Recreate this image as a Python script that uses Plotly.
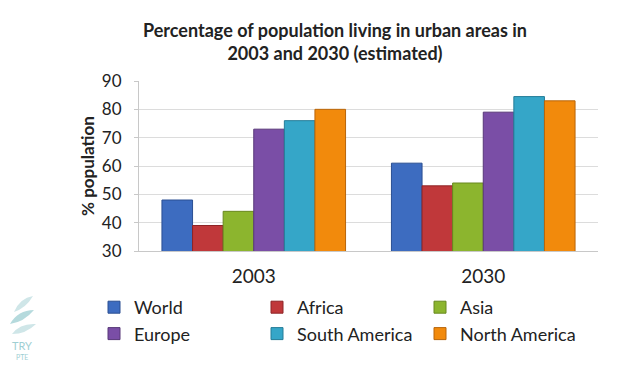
import plotly.graph_objects as go

years = ["2003", "2030"]
regions = ["World", "Africa", "Asia", "Europe", "South America", "North America"]
values = {
    "World": [48, 61],
    "Africa": [39, 53],
    "Asia": [44, 54],
    "Europe": [73, 79],
    "South America": [76, 84.5],
    "North America": [80, 83],
}
colors = {
    "World": "#3d6cc0",
    "Africa": "#c0383a",
    "Asia": "#8cb52e",
    "Europe": "#7a4ea6",
    "South America": "#35a6c8",
    "North America": "#f28a0c",
}
lines = {
    "World": "#2a4f92",
    "Africa": "#8e2426",
    "Asia": "#68881f",
    "Europe": "#583878",
    "South America": "#247c98",
    "North America": "#b8650a",
}
yticks = [30, 40, 50, 60, 70, 80, 90]

FONT = "Lato, Carlito, 'Open Sans', sans-serif"
W, H = 619, 365
ML, MR, MT, MB = 139, 21, 81, 114
PW, PH = W - ML - MR, H - MT - MB


def px(x):
    return (x - ML) / PW


def py(y):
    return (H - MB - y) / PH


fig = go.Figure()
for r in regions:
    fig.add_trace(go.Bar(
        x=years, y=values[r], name=r, base=0,
        marker=dict(color=colors[r], line=dict(color=lines[r], width=1)),
    ))

fig.update_layout(
    width=W, height=H,
    paper_bgcolor="white", plot_bgcolor="white",
    font=dict(family=FONT, color="#222222"),
    margin=dict(l=ML, r=MR, t=MT, b=MB, autoexpand=False),
    barmode="group", bargap=0.2, bargroupgap=0,
    title=dict(
        text="<b>Percentage of population living in urban areas in<br>2003 and 2030 (estimated)</b>",
        x=335 / W, xanchor="center", y=1 - 37 / H, yanchor="top",
        font=dict(size=18, family=FONT, color="#222222"),
    ),
    xaxis=dict(
        showgrid=False, showline=True, linecolor="#c8c8c8", linewidth=1,
        tickfont=dict(size=19, family=FONT, color="#222222"),
        ticks="", ticklen=0, ticklabelstandoff=8,
    ),
    yaxis=dict(
        range=[30, 90], tickvals=yticks, ticktext=[str(v) for v in yticks],
        showgrid=True, gridcolor="#dcdcdc", gridwidth=1,
        showline=True, linecolor="#c8c8c8", linewidth=1,
        ticks="outside", ticklen=4, tickcolor="#c8c8c8",
        ticklabelstandoff=9,
        tickfont=dict(size=17, family=FONT, color="#222222"),
        title=dict(text="<b>% population</b>", standoff=2,
                   font=dict(size=17, family=FONT, color="#222222")),
        zeroline=False,
    ),
    legend=dict(
        orientation="h", x=px(94), xanchor="left", y=py(289), yanchor="top",
        entrywidth=118, entrywidthmode="pixels",
        font=dict(size=18, family=FONT, color="#222222"),
        itemwidth=30, tracegroupgap=0, traceorder="normal",
    ),
    showlegend=True,
)

# watermark logo (leaves + text)
leaf = "#cfe6e8"
leaf2 = "#b5dadd"
fig.add_shape(type="path", xref="paper", yref="paper",
              path=f"M {px(14)},{py(312)} Q {px(20)},{py(298)} {px(33)},{py(296)} Q {px(26)},{py(308)} {px(14)},{py(312)} Z",
              fillcolor=leaf, line=dict(width=0))
fig.add_shape(type="path", xref="paper", yref="paper",
              path=f"M {px(10)},{py(324)} Q {px(18)},{py(310)} {px(34)},{py(310)} Q {px(24)},{py(322)} {px(10)},{py(324)} Z",
              fillcolor=leaf2, line=dict(width=0))
fig.add_shape(type="path", xref="paper", yref="paper",
              path=f"M {px(12)},{py(334)} Q {px(20)},{py(323)} {px(36)},{py(324)} Q {px(26)},{py(334)} {px(12)},{py(334)} Z",
              fillcolor=leaf, line=dict(width=0))
fig.add_annotation(text="TRY", x=px(22), y=py(345), xref="paper", yref="paper", showarrow=False,
                   xanchor="center", yanchor="middle",
                   font=dict(size=11, color="#9fcfd3", family=FONT))
fig.add_annotation(text="PTE", x=px(22), y=py(357), xref="paper", yref="paper", showarrow=False,
                   xanchor="center", yanchor="middle",
                   font=dict(size=7, color="#9fcfd3", family=FONT))

fig.write_html("out.html", config={"displayModeBar": False},
               post_script="document.body.style.margin='0';")
